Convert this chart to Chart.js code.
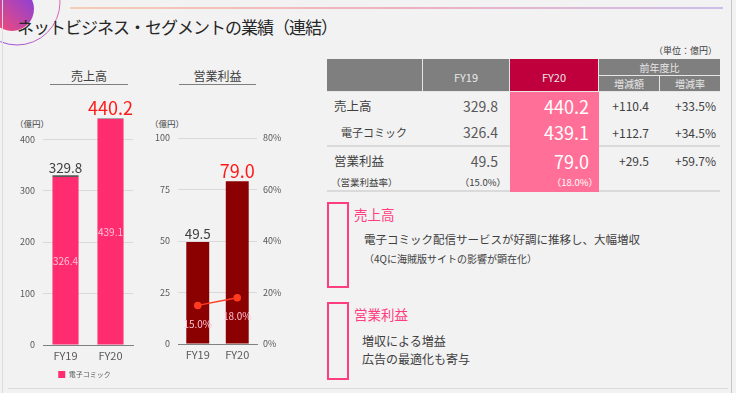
<!DOCTYPE html>
<html lang="ja">
<head>
<meta charset="utf-8">
<script src="https://cdn.jsdelivr.net/npm/chart.js@4.4.1/dist/chart.umd.min.js"></script>
<style>
  html, body { margin: 0; padding: 0; }
  body {
    width: 736px; height: 393px; overflow: hidden; position: relative;
    background: #f2f2f2; color: #404040;
    font-family: 'Noto Sans CJK JP', 'Noto Sans', sans-serif;
  }
  .abs { position: absolute; }
  .title { left: 17px; top: 14px; font-size: 17px; letter-spacing: -1px; color: #262626; white-space: nowrap; }
  .ctitle { font-size: 12px; color: #404040; text-align: center; border-bottom: 1px solid #7f7f7f; line-height: 16px; }
  .unit { font-size: 8.5px; color: #404040; }
  .box { border: 2px solid #ff3d7f; box-sizing: border-box; }
  .shead { font-size: 13.5px; color: #ff3d7f; }
  .stext { font-size: 11.5px; color: #404040; white-space: nowrap; }

  table { position: absolute; left: 327px; top: 59px; width: 393px; border-spacing: 0; table-layout: fixed; }
  th { background: #7f7f7f; color: #e8e8e8; font-weight: normal; font-size: 10px;
       border-right: 1px solid #e6e6e6; border-bottom: 1px solid #e6e6e6; padding: 0; }
  th:last-child { border-right: none; }
  th.fy20 { background: #c0003c; }
  td { padding: 0; white-space: nowrap; font-size: 13px; color: #404040; }
  td.num { text-align: right; }
  td.p20 { background: #ff6f97; color: #fff; font-size: 18px; }
  tr.sep td { border-bottom: 2px solid #dadada; }
  tr.sep td.p20 { border-bottom-color: #ff6f97; }
  .small { font-size: 9.5px !important; }
</style>
</head>
<body>

<svg class="abs" style="left:0;top:0" width="736" height="393">
  <defs>
    <linearGradient id="gFill" x1="0" y1="1" x2="1" y2="0">
      <stop offset="0" stop-color="#ff4b6b"/>
      <stop offset="1" stop-color="#7a3fe6"/>
    </linearGradient>
    <linearGradient id="gRing" x1="1" y1="0" x2="0" y2="1">
      <stop offset="0" stop-color="#ff6f9c"/>
      <stop offset="1" stop-color="#8250e0"/>
    </linearGradient>
    <linearGradient id="gLine" x1="0" y1="0" x2="1" y2="0">
      <stop offset="0" stop-color="#f7aa7a"/>
      <stop offset="0.5" stop-color="#ee6f8c"/>
      <stop offset="1" stop-color="#a78be2"/>
    </linearGradient>
  </defs>
  <circle cx="12" cy="9" r="22" fill="url(#gFill)"/>
  <circle cx="17" cy="2" r="43" fill="none" stroke="url(#gRing)" stroke-width="1"/>
  <rect x="70" y="7.5" width="653" height="1" fill="url(#gLine)"/>
  <line x1="2.5" y1="0" x2="2.5" y2="393" stroke="#dcdcdc"/>
  <line x1="731.5" y1="0" x2="731.5" y2="393" stroke="#c8c8c8"/>
  <line x1="8" y1="388.5" x2="728" y2="388.5" stroke="#dadada"/>
</svg>

<div class="abs title">ネットビジネス・セグメントの業績（連結）</div>

<!-- left charts -->
<div class="abs ctitle" style="left:50px; top:68px; width:78px;">売上高</div>
<div class="abs ctitle" style="left:179px; top:68px; width:77px;">営業利益</div>
<div class="abs unit" style="left:15px; top:117px;">（億円）</div>
<div class="abs unit" style="left:150px; top:117px;">（億円）</div>

<div class="abs" style="left:0px; top:100px; width:169px; height:288px;"><canvas id="salesChart"></canvas></div>
<div class="abs" style="left:140px; top:100px; width:145px; height:290px;"><canvas id="profitChart"></canvas></div>

<!-- table -->
<div class="abs unit" style="right:19px; top:44px; font-size:9px;">（単位：億円）</div>
<table>
  <colgroup><col style="width:96px"><col style="width:87px"><col style="width:89px"><col style="width:61px"><col style="width:60px"></colgroup>
  <tr style="height:17px">
    <th rowspan="2" style="font-size:11px"></th>
    <th rowspan="2" style="font-size:11px; padding-top:3px;">FY19</th>
    <th rowspan="2" class="fy20" style="font-size:11px; padding-top:3px;">FY20</th>
    <th colspan="2">前年度比</th>
  </tr>
  <tr style="height:16px">
    <th>増減額</th><th>増減率</th>
  </tr>
  <tr style="height:27px">
    <td style="padding-left:7px; font-size:12.5px;">売上高</td>
    <td class="num" style="padding-right:12px; font-size:14px; color:#595959;">329.8</td>
    <td class="num p20" style="padding-right:10px;">440.2</td>
    <td class="num" style="padding-right:11px; font-size:12px;">+110.4</td>
    <td class="num" style="padding-right:4px; font-size:12px;">+33.5%</td>
  </tr>
  <tr style="height:20px" class="sep">
    <td style="padding-left:14px; font-size:11px;">電子コミック</td>
    <td class="num" style="padding-right:12px; font-size:14px; color:#595959;">326.4</td>
    <td class="num p20" style="padding-right:10px;">439.1</td>
    <td class="num" style="padding-right:11px; font-size:12px;">+112.7</td>
    <td class="num" style="padding-right:4px; font-size:12px;">+34.5%</td>
  </tr>
  <tr style="height:27px">
    <td style="padding-left:7px; font-size:12.5px;">営業利益</td>
    <td class="num" style="padding-right:12px; font-size:14px; color:#595959;">49.5</td>
    <td class="num p20" style="padding-right:10px;">79.0</td>
    <td class="num" style="padding-right:11px; font-size:12px;">+29.5</td>
    <td class="num" style="padding-right:4px; font-size:12px;">+59.7%</td>
  </tr>
  <tr style="height:18px" class="sep">
    <td class="small" style="padding-left:4px;">（営業利益率）</td>
    <td class="num small" style="padding-right:4px;">（15.0%）</td>
    <td class="num p20 small" style="padding-right:1px;">（18.0%）</td>
    <td></td><td></td>
  </tr>
</table>

<!-- comments -->
<div class="abs box" style="left:327px; top:202px; width:22px; height:86px;"></div>
<div class="abs shead" style="left:354px; top:204px;">売上高</div>
<div class="abs stext" style="left:364px; top:231px;">電子コミック配信サービスが好調に推移し、大幅増収</div>
<div class="abs stext" style="left:364px; top:251px; font-size:10px;">（4Qに海賊版サイトの影響が顕在化）</div>

<div class="abs box" style="left:327px; top:302px; width:22px; height:78px;"></div>
<div class="abs shead" style="left:354px; top:304px;">営業利益</div>
<div class="abs stext" style="left:362px; top:332px; font-size:12px;">増収による増益</div>
<div class="abs stext" style="left:362px; top:350px; font-size:12px;">広告の最適化も寄与</div>

<script>
const categories = ['FY19', 'FY20'];
const salesTotal = [329.8, 440.2];
const ecomicSales = [326.4, 439.1];
const otherSales = [3.4, 1.1];
const opProfit = [49.5, 79.0];
const opMargin = [15.0, 18.0];
const salesTicks = [0, 100, 200, 300, 400];
const profitTicks = [0, 25, 50, 75, 100];
const marginTicks = [0, 20, 40, 60, 80];

const FONT = "'Noto Sans CJK JP', 'Noto Sans', sans-serif";
Chart.defaults.font.family = FONT;
Chart.defaults.color = '#595959';

// small inline plugin for the value labels (no datalabels plugin available)
function makeLabels(items) {
  return {
    id: 'valueLabels',
    afterDatasetsDraw(chart) {
      const ctx = chart.ctx;
      ctx.save();
      ctx.textAlign = 'center';
      items.forEach(it => {
        const meta = chart.getDatasetMeta(it.dataset);
        meta.data.forEach((el, i) => {
          const s = it.style(i);
          ctx.font = (s.weight || 'normal') + ' ' + s.size + 'px ' + FONT;
          ctx.fillStyle = s.color;
          let y;
          if (it.where === 'mid') {
            ctx.textBaseline = 'middle';
            y = (el.y + el.base) / 2;
          } else if (it.where === 'top') {
            ctx.textBaseline = 'bottom';
            y = el.y - 1;
          } else {
            ctx.textBaseline = 'middle';
            y = el.y + it.dy;
          }
          ctx.fillText(it.text(i), el.x, y);
        });
      });
      ctx.restore();
    }
  };
}

// legend sits a bit right of the plot centre in the slide
const legendShift = {
  id: 'legendShift',
  afterLayout(chart) {
    if (chart.legend) {
      chart.legend.left += 18;
      chart.legend.right += 18;
    }
  }
};

const topStyle = i => i === 1
  ? { color: '#ff1a1a', size: 18 }
  : { color: '#404040', size: 13.5 };

new Chart(document.getElementById('salesChart'), {
  type: 'bar',
  data: {
    labels: categories,
    datasets: [
      { label: '電子コミック', data: ecomicSales, backgroundColor: '#ff2d6f', stack: 's' },
      { label: 'その他', data: otherSales, backgroundColor: '#595959', stack: 's' }
    ]
  },
  options: {
    responsive: true,
    maintainAspectRatio: false,
    animation: false,
    layout: { padding: { top: 12, right: 36, left: 0, bottom: 0 } },
    datasets: { bar: { categoryPercentage: 1, barPercentage: 0.58 } },
    scales: {
      x: {
        stacked: true,
        grid: { display: false, drawTicks: false },
        border: { color: '#808080' },
        ticks: { font: { size: 11 }, padding: 4 },
        afterFit: s => { s.height = 22; }
      },
      y: {
        stacked: true,
        min: 0,
        max: 450,
        afterBuildTicks: s => { s.ticks = salesTicks.map(v => ({ value: v })); },
        afterFit: s => { s.width = 43; },
        grid: { color: '#d9d9d9', drawTicks: false },
        border: { display: false },
        ticks: { font: { size: 9 }, padding: 8 }
      }
    },
    plugins: {
      legend: {
        position: 'bottom',
        labels: {
          boxWidth: 7,
          boxHeight: 7,
          padding: 4,
          font: { size: 7 },
          filter: item => item.datasetIndex === 0
        }
      },
      tooltip: { enabled: false }
    }
  },
  plugins: [legendShift, makeLabels([
    { dataset: 0, where: 'mid', text: i => ecomicSales[i].toFixed(1), style: () => ({ color: '#ffc2d4', size: 10 }) },
    { dataset: 1, where: 'top', text: i => salesTotal[i].toFixed(1), style: topStyle }
  ])]
});

new Chart(document.getElementById('profitChart'), {
  type: 'bar',
  data: {
    labels: categories,
    datasets: [
      { type: 'line', label: '営業利益率', data: opMargin, yAxisID: 'y1', order: 0,
        borderColor: '#ff3b1f', backgroundColor: '#ff3b1f', borderWidth: 1.5, pointRadius: 3 },
      { label: '営業利益', data: opProfit, backgroundColor: '#8b0000', order: 1 }
    ]
  },
  options: {
    responsive: true,
    maintainAspectRatio: false,
    animation: false,
    layout: { padding: { top: 38, right: 0, left: 0, bottom: 24 } },
    datasets: { bar: { categoryPercentage: 1, barPercentage: 0.58 } },
    scales: {
      x: {
        grid: { display: false, drawTicks: false },
        border: { color: '#808080' },
        ticks: { font: { size: 11 }, padding: 4 },
        afterFit: s => { s.height = 22; }
      },
      y: {
        min: 0,
        max: 100,
        afterBuildTicks: s => { s.ticks = profitTicks.map(v => ({ value: v })); },
        afterFit: s => { s.width = 38; },
        grid: { color: '#d9d9d9', drawTicks: false },
        border: { display: false },
        ticks: { font: { size: 9 }, padding: 8 }
      },
      y1: {
        position: 'right',
        min: 0,
        max: 80,
        afterBuildTicks: s => { s.ticks = marginTicks.map(v => ({ value: v })); },
        afterFit: s => { s.width = 28; },
        grid: { display: false, drawTicks: false },
        border: { display: false },
        ticks: { font: { size: 9 }, padding: 6, callback: v => v + '%' }
      }
    },
    plugins: {
      legend: { display: false },
      tooltip: { enabled: false }
    }
  },
  plugins: [makeLabels([
    { dataset: 1, where: 'top', text: i => opProfit[i].toFixed(1), style: topStyle },
    { dataset: 0, where: 'below', dy: 19, text: i => opMargin[i].toFixed(1) + '%', style: () => ({ color: '#ffc2d4', size: 10 }) }
  ])]
});
</script>
</body>
</html>
